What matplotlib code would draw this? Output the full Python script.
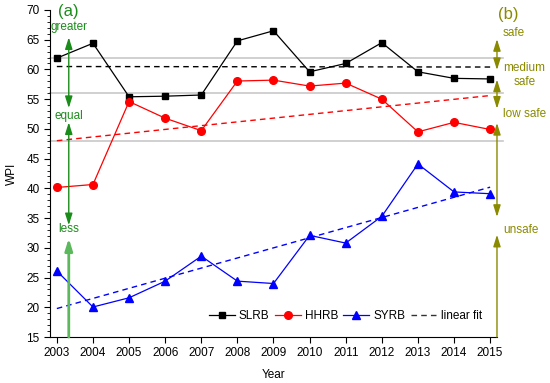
import numpy as np
import matplotlib
matplotlib.use("Agg")
import matplotlib.pyplot as plt
from matplotlib.ticker import MultipleLocator

years = np.arange(2003, 2016)
slrb = [61.9, 64.4, 55.4, 55.5, 55.7, 64.8, 66.5, 59.6, 61.0, 64.5, 59.6, 58.5, 58.4]
hhrb = [40.15, 40.65, 54.6, 51.8, 49.7, 58.05, 58.2, 57.2, 57.7, 55.0, 49.5, 51.1, 49.9]
syrb = [26.1, 20.05, 21.6, 24.4, 28.6, 24.4, 24.0, 32.1, 30.8, 35.3, 44.1, 39.4, 39.1]
grade_lines = [62, 56, 48]

plt.rcParams['font.family'] = ['Liberation Sans', 'DejaVu Sans']

fig = plt.figure(figsize=(5.5, 3.83), dpi=100)
ax = fig.add_axes([0.0909, 0.120, 0.8127, 0.854])
xmin, xmax = 2002.81, 2015.19
ax.set_xlim(xmin, xmax)
ax.set_ylim(15, 70)

for g in grade_lines:
    ax.plot([xmin, 2015.35], [g, g], color='#c8c8c8', lw=1.2, zorder=1, clip_on=False)

green = '#1a8c1a'
olive = '#8a8a00'
fs = 8.5

ax.plot(years, slrb, '-s', color='black', lw=0.9, ms=4.8, label='SLRB', zorder=4)
ax.plot(years, hhrb, '-o', color='red', lw=0.9, ms=5.5, label='HHRB', zorder=4)
ax.plot(years, syrb, '-^', color='blue', lw=0.9, ms=6, label='SYRB', zorder=4)

x = years.astype(float)
for data, col in [(slrb, 'black'), (hhrb, 'red'), (syrb, 'blue')]:
    p = np.polyfit(x, data, 1)
    ax.plot([x[0], x[-1]], np.polyval(p, [x[0], x[-1]]), '--', color=col, lw=1.0,
            dashes=(4, 3), zorder=3)
ax.plot([], [], '--', color='#333333', lw=1.0, dashes=(4, 3), label='linear fit')

def arrow(xv, y0, y1, color, style='<|-|>', lw=1.0, alpha=1.0):
    ax.annotate('', xy=(xv, y1), xytext=(xv, y0),
                arrowprops=dict(arrowstyle=style + ',head_length=0.7,head_width=0.22',
                                color=color, lw=lw, shrinkA=0, shrinkB=0,
                                mutation_scale=10, alpha=alpha),
                annotation_clip=False, zorder=5)

gx = 2003.33
arrow(gx, 53.5, 65.4, green)
arrow(gx, 33.8, 51.1, green)
arrow(gx, 15, 31.6, '#5cb85c', style='-|>', lw=2.0)
ax.text(gx, 67.1, 'greater', color=green, fontsize=fs, ha='center', va='center')
ax.text(gx, 52.1, 'equal', color=green, fontsize=fs, ha='center', va='center')
ax.text(gx, 33.2, 'less', color=green, fontsize=fs, ha='center', va='center')
ax.text(gx, 69.8, '(a)', color=green, fontsize=12, ha='center', va='center')

ox = xmax
arrow(ox, 59.9, 65.1, olive)
arrow(ox, 53.4, 58.3, olive)
arrow(ox, 35.2, 51.0, olive)
arrow(ox, 15, 32.2, olive, style='-|>')
tx = 2015.36
ax.text(tx, 66.1, 'safe', color=olive, fontsize=fs, ha='left', va='center', clip_on=False)
ax.text(2015.95, 59.0, 'medium\nsafe', color=olive, fontsize=fs, ha='center', va='center',
        linespacing=1.2, multialignment='center')
ax.text(tx, 52.5, 'low safe', color=olive, fontsize=fs, ha='left', va='center')
ax.text(tx, 33.0, 'unsafe', color=olive, fontsize=fs, ha='left', va='center')
ax.text(2015.5, 69.2, '(b)', color=olive, fontsize=12, ha='center', va='center')

ax.spines['top'].set_visible(False)
ax.spines['right'].set_visible(False)
ax.set_xticks(years)
ax.yaxis.set_major_locator(MultipleLocator(5))
ax.yaxis.set_minor_locator(MultipleLocator(1))
ax.tick_params(axis='both', which='major', direction='out', length=4, labelsize=fs)
ax.tick_params(axis='y', which='minor', direction='out', length=2)
ax.set_xlabel('Year', fontsize=fs, labelpad=7)
ax.set_ylabel('WPI', fontsize=fs, labelpad=6)

ax.legend(loc='lower right', bbox_to_anchor=(0.985, 0.02), ncol=4, frameon=False,
          fontsize=fs, handlelength=2.2, columnspacing=0.45, handletextpad=0.35,
          borderpad=0.2)

fig.savefig('out.png', dpi=100)
